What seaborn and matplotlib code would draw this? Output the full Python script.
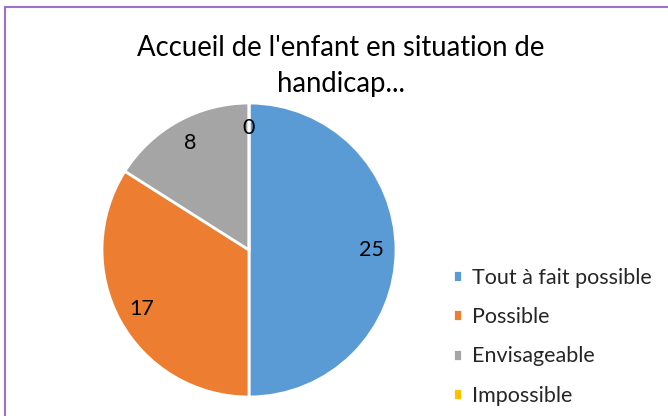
import matplotlib
matplotlib.use("Agg")
import matplotlib.pyplot as plt
from matplotlib.patches import Rectangle
import seaborn as sns

# ── Data ───────────────────────────────────────────────────────────────────────
TITLE      = "Accueil de l'enfant en situation de\nhandicap..."
CATEGORIES = ["Tout à fait possible", "Possible", "Envisageable", "Impossible"]
COUNTS     = [25, 17, 8, 0]
COLOURS    = ["#5B9BD5", "#ED7D31", "#A5A5A5", "#FFC000"]

W, H = 668, 416
DPI  = 100

sns.set_theme(style="white")
plt.rcParams["font.family"] = ["Lato", "DejaVu Sans"]

fig = plt.figure(figsize=(W / DPI, H / DPI), dpi=DPI)

# pie centre ~ (249, 250) px, radius ~147 px
cx, cy, r = 249, 250, 147
ax = fig.add_axes([(cx - r) / W, (H - cy - r) / H, 2 * r / W, 2 * r / H])
wedges, texts = ax.pie(
    COUNTS,
    colors=COLOURS,
    startangle=90,
    counterclock=False,
    labels=[str(v) for v in COUNTS],
    labeldistance=0.83,
    wedgeprops=dict(edgecolor="white", linewidth=2),
    textprops=dict(fontsize=15.5, color="#000000"),
)
for t in texts:
    t.set_ha("center")
    t.set_va("center")
ax.set_xlim(-1, 1)
ax.set_ylim(-1, 1)
ax.set_aspect("auto")
ax.axis("off")

fig.text(341 / W, 1 - 66 / H, TITLE, ha="center", va="center",
         fontsize=19.8, linespacing=1.45, color="#000000")

leg = fig.legend(
    wedges, CATEGORIES,
    loc="upper left",
    bbox_to_anchor=(444 / W, 1 - 259 / H),
    frameon=False,
    fontsize=15.5,
    handlelength=0.45,
    handleheight=0.5,
    handletextpad=0.45,
    labelspacing=0.9,
    borderaxespad=0,
)

# chart-area border (purple)
fig.patches.append(Rectangle((4.5 / W, -0.05), 1.1, 1 - 6.5 / H + 0.05,
                             transform=fig.transFigure, fill=False,
                             edgecolor="#9B72C8", linewidth=1.5))

fig.savefig("out.png", dpi=DPI)
